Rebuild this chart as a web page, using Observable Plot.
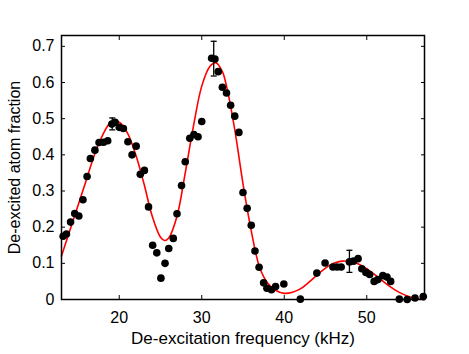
<!DOCTYPE html>
<html>
<head>
<meta charset="utf-8">
<script src="https://cdn.jsdelivr.net/npm/d3@7"></script>
<script src="https://cdn.jsdelivr.net/npm/@observablehq/plot@0.6"></script>
<style>
  html, body { margin: 0; padding: 0; background: #fff; }
  #chart svg { display: block; }
</style>
</head>
<body>
<div id="chart"></div>
<script>
// Measured points (kHz, fraction)
const freq = [13.2,13.6,14.1,14.6,15.1,15.6,16.1,16.5,17.05,17.55,18.1,18.6,19.1,19.5,20.0,20.5,21.05,21.55,22.05,22.55,23.05,23.55,24.05,24.55,25.05,25.55,26.0,26.55,27.0,27.55,28.0,28.55,29.05,29.55,30.0,31.2,31.6,32.0,32.5,33.0,33.5,34.0,34.5,35.0,35.5,36.0,36.45,36.95,37.5,37.9,38.45,38.95,39.95,41.95,43.95,44.95,45.9,46.4,46.9,47.9,48.4,48.95,49.4,49.9,50.35,50.9,51.35,51.95,52.45,52.9,53.95,54.9,55.85,56.85];
const fraction = [0.175,0.181,0.214,0.238,0.231,0.276,0.34,0.39,0.413,0.434,0.435,0.439,0.485,0.49,0.476,0.473,0.436,0.40,0.424,0.346,0.357,0.256,0.15,0.129,0.059,0.10,0.141,0.169,0.237,0.315,0.381,0.446,0.456,0.45,0.492,0.667,0.665,0.63,0.587,0.571,0.537,0.507,0.462,0.296,0.252,0.205,0.134,0.089,0.046,0.031,0.027,0.036,0.043,0.001,0.073,0.101,0.09,0.09,0.09,0.104,0.106,0.113,0.085,0.075,0.069,0.05,0.055,0.066,0.062,0.05,0.001,0.0,0.004,0.008];

// Fit curve
const fitFreq = [13,14,15,16,17,18,19,20,21,22,23,24,25,25.5,26,27,28,29,30,31,31.7,32.5,33,34,35,36,37,38,39,40,41,42,43,44,45,46,47,48,49,50,51,52,53,54,55,56,57];
const fitFrac = [0.12,0.19,0.26,0.33,0.40,0.455,0.49,0.49,0.46,0.40,0.32,0.23,0.172,0.163,0.17,0.23,0.35,0.48,0.59,0.645,0.655,0.63,0.59,0.47,0.32,0.19,0.09,0.045,0.025,0.017,0.02,0.03,0.048,0.068,0.087,0.10,0.106,0.105,0.098,0.085,0.068,0.05,0.033,0.019,0.009,0.003,0.0];

// Error bars
const errFreq = [19.15, 31.45, 47.9];
const errLow = [0.469, 0.618, 0.075];
const errHigh = [0.502, 0.714, 0.136];

const xTicks = [20, 30, 40, 50];
const yTicks = [0, 0.1, 0.2, 0.3, 0.4, 0.5, 0.6, 0.7];

const points = freq.map((x, i) => ({x, y: fraction[i]}));
const fit = fitFreq.map((x, i) => ({x, y: fitFrac[i]}));
const errs = errFreq.map((x, i) => ({x, lo: errLow[i], hi: errHigh[i]}));

const capSymbol = { draw(ctx, size) { const w = 3; ctx.moveTo(-w, 0); ctx.lineTo(w, 0); } };

const font = "'Liberation Sans', Arial, Helvetica, sans-serif";

const chart = Plot.plot({
  width: 469,
  height: 354,
  marginLeft: 61,
  marginRight: 45,
  marginTop: 35,
  marginBottom: 55,
  style: { fontFamily: font, fontSize: "16px", color: "black", background: "white" },
  x: { domain: [13, 57] },
  y: { domain: [0, 0.73] },
  marks: [
    Plot.line(fit, { x: "x", y: "y", stroke: "#ff0000", strokeWidth: 1.6, curve: "catmull-rom" }),
    Plot.dot(points, { x: "x", y: "y", r: 3.8, fill: "black", stroke: "none" }),
    Plot.ruleX(errs, { x: "x", y1: "lo", y2: "hi", stroke: "black", strokeWidth: 1.3 }),
    Plot.dot(errs, { x: "x", y: "lo", symbol: capSymbol, stroke: "black", strokeWidth: 1.3, fill: "none" }),
    Plot.dot(errs, { x: "x", y: "hi", symbol: capSymbol, stroke: "black", strokeWidth: 1.3, fill: "none" }),
    Plot.axisX({ ticks: xTicks, tickSize: -4, tickPadding: 16, anchor: "bottom", label: null, fontSize: 16 }),
    Plot.axisX({ ticks: [], anchor: "bottom", label: "De-excitation frequency (kHz)", labelAnchor: "center", labelArrow: "none", labelOffset: 44, fontSize: 17 }),
    Plot.axisX({ ticks: xTicks, tickSize: -4, anchor: "top", tickFormat: () => "", label: null }),
    Plot.axisY({ ticks: yTicks, tickSize: -4, tickPadding: 11, anchor: "left", tickFormat: d => d === 0 ? "0" : d3.format(".1f")(d), label: null, fontSize: 16 }),
    Plot.axisY({ ticks: [], anchor: "left", label: "De-excited atom fraction", labelAnchor: "center", labelArrow: "none", labelOffset: 53, fontSize: 16 }),
    Plot.axisY({ ticks: yTicks, tickSize: -4, anchor: "right", tickFormat: () => "", label: null }),
    Plot.frame({ stroke: "black", strokeWidth: 1.5 })
  ]
});
document.getElementById("chart").appendChild(chart);
</script>
</body>
</html>
